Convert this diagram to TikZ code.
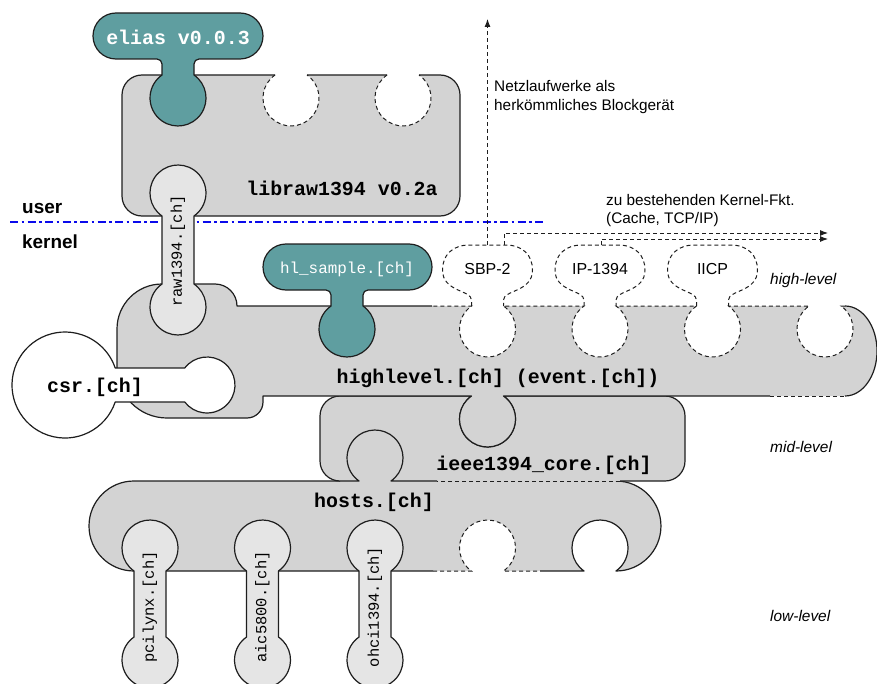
\documentclass[tikz,border=0pt]{standalone}
\usepackage{fontspec}
\setmainfont{Liberation Sans}
\newfontfamily\codefont{Liberation Mono}
\usetikzlibrary{arrows.meta}
\definecolor{blockgrey}{RGB}{211,211,211}
\definecolor{drvgrey}{RGB}{229,229,229}
\definecolor{tealpiece}{RGB}{95,158,160}
\definecolor{edgeline}{RGB}{30,30,30}
\definecolor{splitblue}{RGB}{10,10,235}
\begin{document}
\begin{tikzpicture}[x=1bp,y=-1bp,
  outline/.style={draw=edgeline,line width=1.2bp,line join=round},
  ghost/.style={draw=edgeline,line width=1bp,dash pattern=on 4bp off 3bp},
  codebig/.style={font=\codefont\bfseries\fontsize{20}{22}\selectfont,inner sep=0pt},
  codesmall/.style={font=\codefont\fontsize{15.5}{17}\selectfont,inner sep=0pt},
  sansnote/.style={font=\fontsize{15.4}{18}\selectfont,inner sep=0pt,anchor=base west},
  levelnote/.style={font=\itshape\fontsize{15.5}{18}\selectfont,inner sep=0pt,anchor=base west},
  spacenote/.style={font=\bfseries\fontsize{19}{22}\selectfont,inner sep=0pt,anchor=base west},
  flow/.style={draw=edgeline,line width=0.9bp,dash pattern=on 4bp off 3bp,-{Latex[length=8bp,width=6bp]}},
]
\useasboundingbox (0,0) rectangle (877,684);

% ---------------- hosts.[ch] ----------------
\fill[blockgrey] (134,481) -- (359,481) arc[start angle=124.8,end angle=415.2,radius=28]
  -- (616,481) arc[start angle=-90,end angle=90,radius=45]
  arc[start angle=55.2,end angle=-235.2,radius=28]
  -- (503.5,571) arc[start angle=55.2,end angle=-235.2,radius=28]
  -- (391,571) arc[start angle=55.2,end angle=-235.2,radius=28]
  -- (278.5,571) arc[start angle=55.2,end angle=-235.2,radius=28]
  -- (166,571) arc[start angle=55.2,end angle=-235.2,radius=28]
  arc[start angle=90,end angle=270,radius=45] -- cycle;
\draw[outline] (340,481) -- (134,481) arc[start angle=270,end angle=90,radius=45] -- (433,571);
\draw[ghost] (433,571) -- (471.5,571) arc[start angle=124.8,end angle=415.2,radius=28] -- (540,571);
\draw[outline] (540,571) -- (584,571) arc[start angle=124.8,end angle=415.2,radius=28]
  arc[start angle=90,end angle=-90,radius=45];

% ---------------- ieee1394_core.[ch] ----------------
\fill[blockgrey] (340,396) -- (471.5,396) arc[start angle=235.2,end angle=-55.2,radius=28]
  -- (665,396) arc[start angle=-90,end angle=0,radius=20]
  -- (685,461) arc[start angle=0,end angle=90,radius=20]
  -- (391,481) arc[start angle=55.2,end angle=-235.2,radius=28]
  -- (340,481) arc[start angle=90,end angle=180,radius=20]
  -- (320,416) arc[start angle=180,end angle=270,radius=20] -- cycle;
\draw[outline] (437,481) -- (391,481) arc[start angle=55.2,end angle=-235.2,radius=28]
  -- (340,481) arc[start angle=90,end angle=180,radius=20]
  -- (320,416) arc[start angle=180,end angle=270,radius=20]
  -- (471.5,396) arc[start angle=235.2,end angle=-55.2,radius=28]
  -- (665,396) arc[start angle=-90,end angle=0,radius=20]
  -- (685,461) arc[start angle=0,end angle=90,radius=20] -- (620,481);
\draw[ghost] (620,481) -- (437,481);

% ---------------- highlevel.[ch] ----------------
\fill[blockgrey] (162,284) -- (215,284) arc[start angle=-90,end angle=0,radius=22]
  -- (331,306) arc[start angle=235.2,end angle=-55.2,radius=28]
  -- (471.5,306) arc[start angle=235.2,end angle=-55.2,radius=28]
  -- (584,306) arc[start angle=235.2,end angle=-55.2,radius=28]
  -- (696.5,306) arc[start angle=235.2,end angle=-55.2,radius=28]
  -- (809,306) arc[start angle=235.2,end angle=-55.2,radius=28]
  -- (845,306) arc[start angle=-90,end angle=90,x radius=32,y radius=45]
  -- (503.5,396) arc[start angle=-55.2,end angle=235.2,radius=28]
  -- (263,396) -- (263,402) arc[start angle=0,end angle=90,radius=16]
  -- (167,418) arc[start angle=90,end angle=180,radius=50]
  -- (117,329) arc[start angle=180,end angle=270,radius=45] -- cycle;
\draw[outline] (432,306) -- (237,306) arc[start angle=0,end angle=-90,radius=22]
  -- (162,284) arc[start angle=270,end angle=180,radius=45]
  -- (117,368) arc[start angle=180,end angle=90,radius=50]
  -- (247,418) arc[start angle=90,end angle=0,radius=16]
  -- (263,396) -- (471.5,396) arc[start angle=235.2,end angle=-55.2,radius=28] -- (770,396);
\draw[ghost] (770,396) -- (845,396);
\draw[outline] (845,396) arc[start angle=90,end angle=-90,x radius=32,y radius=45];
\draw[ghost] (845,306) -- (841,306) arc[start angle=-55.2,end angle=235.2,radius=28]
  -- (728.5,306) arc[start angle=-55.2,end angle=235.2,radius=28]
  -- (616,306) arc[start angle=-55.2,end angle=235.2,radius=28]
  -- (503.5,306) arc[start angle=-55.2,end angle=235.2,radius=28] -- (432,306);

% ---------------- libraw1394 ----------------
\fill[blockgrey] (142,75) -- (275,75) arc[start angle=235.2,end angle=-55.2,radius=28]
  -- (387,75) arc[start angle=235.2,end angle=-55.2,radius=28]
  -- (440,75) arc[start angle=-90,end angle=0,radius=20]
  -- (460,196) arc[start angle=0,end angle=90,radius=20]
  -- (142,216) arc[start angle=90,end angle=180,radius=20]
  -- (122,95) arc[start angle=180,end angle=270,radius=20] -- cycle;
\draw[outline] (275,75) -- (142,75) arc[start angle=270,end angle=180,radius=20]
  -- (122,196) arc[start angle=180,end angle=90,radius=20]
  -- (440,216) arc[start angle=90,end angle=0,radius=20]
  -- (460,95) arc[start angle=0,end angle=-90,radius=20] -- (419,75)
  (387,75) -- (307,75);
\draw[ghost] (275,75) arc[start angle=235.2,end angle=-55.2,radius=28];
\draw[ghost] (387,75) arc[start angle=235.2,end angle=-55.2,radius=28];

% ---------------- elias ----------------
\draw[outline,fill=tealpiece] (116,13) -- (240,13) arc[start angle=-90,end angle=90,radius=23]
  -- (199,59) arc[start angle=-90,end angle=-180,radius=5]
  -- (194,75) arc[start angle=-55.2,end angle=235.2,radius=28]
  -- (162,64) arc[start angle=0,end angle=-90,radius=5]
  -- (116,59) arc[start angle=90,end angle=270,radius=23] -- cycle;

% ---------------- user / kernel boundary ----------------
\coordinate (splitL) at (10,222);
\coordinate (splitR) at (545,222);
\draw[splitblue,line width=2.4bp,dash pattern=on 8bp off 3.5bp on 2.5bp off 3.5bp] (splitL) -- (splitR);

% ---------------- raw1394.[ch] ----------------
\draw[outline,fill=drvgrey] (194,216) -- (194,284) arc[start angle=-55.2,end angle=235.2,radius=28]
  -- (162,216) arc[start angle=124.8,end angle=415.2,radius=28] -- cycle;

% ---------------- csr.[ch] ----------------
\draw[outline,fill=white] (115.2,368) -- (184.75,368) arc[start angle=217.4,end angle=502.6,radius=28]
  -- (115.2,402) arc[start angle=18.7,end angle=341.3,radius=53] -- cycle;

% ---------------- hl_sample.[ch] ----------------
\draw[outline,fill=tealpiece] (286,244) -- (409,244) arc[start angle=-90,end angle=90,radius=23]
  -- (368,290) arc[start angle=-90,end angle=-180,radius=5]
  -- (363,306) arc[start angle=-55.2,end angle=235.2,radius=28]
  -- (331,295) arc[start angle=0,end angle=-90,radius=5]
  -- (286,290) arc[start angle=90,end angle=270,radius=23] -- cycle;

% ---------------- low-level drivers ----------------
\foreach \x/\nm/\lab in {150/pcilynx/{pcilynx.[ch]},262.5/aicdrv/{aic5800.[ch]},375/ohcidrv/{ohci1394.[ch]}}{
  \draw[outline,fill=drvgrey] ({\x+16},571) -- ({\x+16},637) arc[start angle=-55.2,end angle=235.2,radius=28]
    -- ({\x-16},571) arc[start angle=124.8,end angle=415.2,radius=28] -- cycle;
  \node[codesmall,rotate=90] (\nm) at (\x,607) {\lab};
}

% ---------------- planned high-level protocols ----------------
\foreach \x/\nm/\lab in {487.5/sbp/SBP-2,600/ipov/IP-1394,712.5/iicp/IICP}{
  \draw[ghost] ({\x-16},306) -- ({\x-16},300) .. controls ({\x-16},290) and ({\x-45},292) .. ({\x-45},270)
    .. controls ({\x-45},255) and ({\x-35},245) .. ({\x-18},245) -- ({\x+18},245)
    .. controls ({\x+35},245) and ({\x+45},255) .. ({\x+45},270)
    .. controls ({\x+45},292) and ({\x+16},290) .. ({\x+16},300) -- ({\x+16},306);
  \node[font=\fontsize{16}{18}\selectfont,inner sep=0pt] (\nm) at (\x,269) {\lab};
}

% ---------------- onward connections ----------------
\coordinate (sbpTop) at (487.5,245);
\coordinate (sbpTopR) at (504,245);
\coordinate (ipTop) at (601,245);
\coordinate (blockdev) at (487.5,19);
\coordinate (kernA) at (828,233);
\coordinate (kernB) at (828,239);
\draw[flow] (sbpTop) -- (blockdev);
\draw[flow] (sbpTopR) |- (kernA);
\draw[flow] (ipTop) |- (kernB);

% ---------------- module names ----------------
\node[codebig,text=white,anchor=base] (elias) at (178,45) {elias v0.0.3};
\node[codebig,anchor=base] (libraw) at (342,195) {libraw1394 v0.2a};
\node[codesmall,rotate=90] (raw) at (178,251) {raw1394.[ch]};
\node[font=\codefont\fontsize{16}{18}\selectfont,inner sep=0pt,text=white,anchor=base] (hls) at (347,273) {hl\_sample.[ch]};
\node[codebig,anchor=base] (csr) at (95,392) {csr.[ch]};
\node[codebig,anchor=base] (highlevel) at (498,383) {highlevel.[ch] (event.[ch])};
\node[codebig,anchor=base] (core) at (544,470) {ieee1394\_core.[ch]};
\node[codebig,anchor=base] (hosts) at (374,507) {hosts.[ch]};

% ---------------- annotations ----------------
\node[sansnote] (netz1) at (494,92) {Netzlaufwerke als};
\node[sansnote] (netz2) at (494,111) {herkömmliches Blockgerät};
\node[sansnote] (kfkt1) at (606,205) {zu bestehenden Kernel-Fkt.};
\node[sansnote] (kfkt2) at (606,223) {(Cache, TCP/IP)};
\node[levelnote] (lvhigh) at (770,284) {high-level};
\node[levelnote] (lvmid) at (770,452) {mid-level};
\node[levelnote] (lvlow) at (770,621) {low-level};
\node[spacenote] (user) at (22,213) {user};
\node[spacenote] (kernel) at (22,248) {kernel};
\end{tikzpicture}
\end{document}
